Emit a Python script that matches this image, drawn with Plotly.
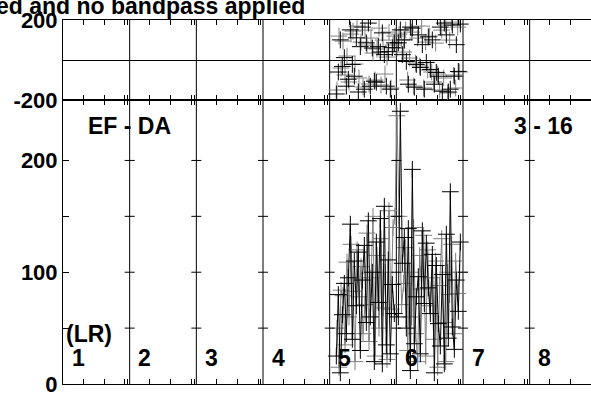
import plotly.graph_objects as go

# antenna panels along the x axis (1 unit per panel)
panels = ["1", "2", "3", "4", "5", "6", "7", "8"]

# black series: time (panel units), amplitude, phase
t_black = [4.10, 4.13, 4.16, 4.19, 4.22, 4.25, 4.28, 4.31, 4.34, 4.37, 4.40, 4.43, 4.46, 4.49, 4.52,
           4.55, 4.58, 4.61, 4.64, 4.67, 4.70, 4.73, 4.76, 4.79, 4.82, 4.85, 4.88, 4.91, 4.94, 4.97,
           5.03, 5.06, 5.09, 5.12, 5.15, 5.18, 5.21, 5.24, 5.27, 5.30, 5.33, 5.36, 5.39, 5.42, 5.45,
           5.48, 5.51, 5.54, 5.57, 5.60, 5.63, 5.66, 5.69, 5.72, 5.75, 5.78, 5.81, 5.84, 5.87, 5.90,
           5.93, 5.96]
amp_black = [25, 80, 10, 62, 90, 45, 95, 143, 40, 110, 70, 118, 30, 93, 124,
             55, 146, 60, 100, 20, 127, 73, 148, 18, 159, 35, 111, 27, 89, 63,
             60, 244, 108, 131, 50, 139, 12, 192, 36, 78, 96, 27, 137, 72, 126,
             86, 63, 116, 10, 106, 54, 34, 98, 18, 134, 41, 172, 51, 31, 93,
             65, 127]
ph_black = [-170, -60, 101, -32, 12, -131, -96, 151, -22, -81, 111, -160, 67, 165, -146,
            86, 185, -131, 60, -106, -111, 67, 40, 136, 27, -131, 42, -146, 62, 86,
            86, 151, 27, 101, -7, -121, 165, 160, -136, -22, 126, -37, 77, -146, -12,
            116, -47, 101, -121, -62, -81, 165, -156, 185, 126, -160, -146, 175, -81, 77,
            -57, 180]

# gray series
t_gray = [4.11, 4.14, 4.17, 4.20, 4.23, 4.26, 4.29, 4.32, 4.35, 4.38, 4.41, 4.44, 4.47, 4.50, 4.53,
          4.56, 4.59, 4.62, 4.65, 4.68, 4.71, 4.74, 4.77, 4.80, 4.83, 4.86, 4.89, 4.92, 4.95, 4.98,
          5.01, 5.04, 5.08, 5.11, 5.14, 5.17, 5.20, 5.23, 5.26, 5.29, 5.32, 5.35, 5.38, 5.41, 5.44,
          5.47, 5.50, 5.53, 5.56, 5.59, 5.62, 5.65, 5.68, 5.71, 5.74, 5.77, 5.80, 5.83, 5.86, 5.89,
          5.92, 5.95]
amp_gray = [50, 15, 84, 79, 35, 109, 60, 125, 83, 20, 120, 78, 105, 45, 71,
            135, 38, 95, 150, 25, 115, 50, 130, 68, 100, 22, 155, 67, 140, 150,
            240, 150, 71, 90, 122, 30, 100, 60, 140, 45, 20, 115, 85, 133, 25,
            120, 70, 95, 40, 110, 15, 88, 130, 55, 20, 100, 80, 125, 45, 110,
            81, 100]
ph_gray = [-150, 120, -40, 95, -75, 20, -110, 130, 145, -20, 170, -90, 90, -135, 150,
           75, -120, 110, 35, -100, 55, 160, -125, 100, -70, 15, 140, -140, 75, 120,
           60, 130, 100, 40, 150, -100, 10, 140, -130, -15, 110, -30, 170, -140, 90,
           -50, 120, -60, -110, 85, -70, -150, 150, -90, 175, -165, 100, 190, -75, -140,
           165, -60]

amp_ticks = [0, 50, 100, 150, 200]
amp_labels = ["0", "", "100", "", "200"]
ph_ticks = [-200, 200]
ph_labels = ["-200", "200"]

FONT = "Liberation Sans, Arial, Helvetica, sans-serif"
GRAY = "#808080"

fig = go.Figure()
for t, a, p, c in [(t_gray, amp_gray, ph_gray, GRAY), (t_black, amp_black, ph_black, "black")]:
    fig.add_trace(go.Scatter(x=t, y=a, mode="lines+markers", xaxis="x", yaxis="y",
                             line=dict(color=c, width=1),
                             marker=dict(symbol="cross-thin", size=12, line=dict(width=1, color=c))))
    fig.add_trace(go.Scatter(x=t, y=p, mode="markers", xaxis="x2", yaxis="y2",
                             marker=dict(symbol="cross-thin", size=12, line=dict(width=1, color=c))))

# small ticks inside each panel (time ticks)
xticks = [k + f for k in range(len(panels)) for f in (0.30, 0.615, 0.925, 0.965)]
xcommon = dict(range=[0, 7.92], tickmode="array", tickvals=xticks, ticks="inside", ticklen=5,
               tickcolor="black", showticklabels=False, showgrid=False, zeroline=False,
               showline=True, linecolor="black", linewidth=1, mirror="ticks")

fig.update_layout(
    width=591, height=397,
    margin=dict(l=63, r=0, t=20, b=9),
    paper_bgcolor="white", plot_bgcolor="white",
    showlegend=False,
    xaxis=dict(anchor="y", **xcommon),
    xaxis2=dict(anchor="y2", matches="x", **xcommon),
    yaxis=dict(domain=[0, 0.78], range=[0, 254], tickmode="array", tickvals=amp_ticks,
               ticktext=amp_labels, ticks="inside", ticklen=6, tickcolor="black",
               showline=True, linecolor="black", showgrid=False, zeroline=False,
               tickfont=dict(family=FONT, size=22, color="black", weight="bold")),
    yaxis2=dict(domain=[0.78, 1], range=[-200.5, 200.5], tickmode="array", tickvals=ph_ticks,
                ticktext=ph_labels, ticks="inside", ticklen=6, tickcolor="black",
                showline=True, linecolor="black", showgrid=False,
                zeroline=True, zerolinecolor="black", zerolinewidth=1,
                tickfont=dict(family=FONT, size=22, color="black", weight="bold")),
)

# panel separators and crossing ticks
shapes = []
for k in range(1, len(panels)):
    shapes.append(dict(type="line", xref="x", yref="paper", x0=k, x1=k, y0=0, y1=1,
                       line=dict(color="black", width=1), layer="below"))
    for v in amp_ticks[1:]:
        shapes.append(dict(type="line", xref="x", yref="y", x0=k - 0.075, x1=k + 0.075, y0=v, y1=v,
                           line=dict(color="black", width=1)))
fig.update_layout(shapes=shapes)

afont = dict(family=FONT, size=23, color="black", weight="bold")
ann = [
    dict(text="ed and no bandpass applied", xref="paper", yref="paper", x=-0.131, y=0.997,
         xanchor="left", yanchor="bottom", showarrow=False, font=afont),
    dict(text="EF - DA", xref="x", yref="y", x=1.0, y=231, showarrow=False, font=afont),
    dict(text="3 - 16", xref="x", yref="y", x=7.21, y=231, showarrow=False, font=afont),
    dict(text="(LR)", xref="x", yref="y", x=0.02, y=45, xanchor="left", showarrow=False, font=afont),
]
for k, name in enumerate(panels):
    ann.append(dict(text=name, xref="x", yref="y", x=k + 0.1, y=23, xanchor="left",
                    showarrow=False, font=afont))
fig.update_layout(annotations=ann)

# drop the default 8px page margin so the figure fills the window
fig.write_html("out.html", config={"displayModeBar": False},
               post_script="document.body.style.margin='0';")
